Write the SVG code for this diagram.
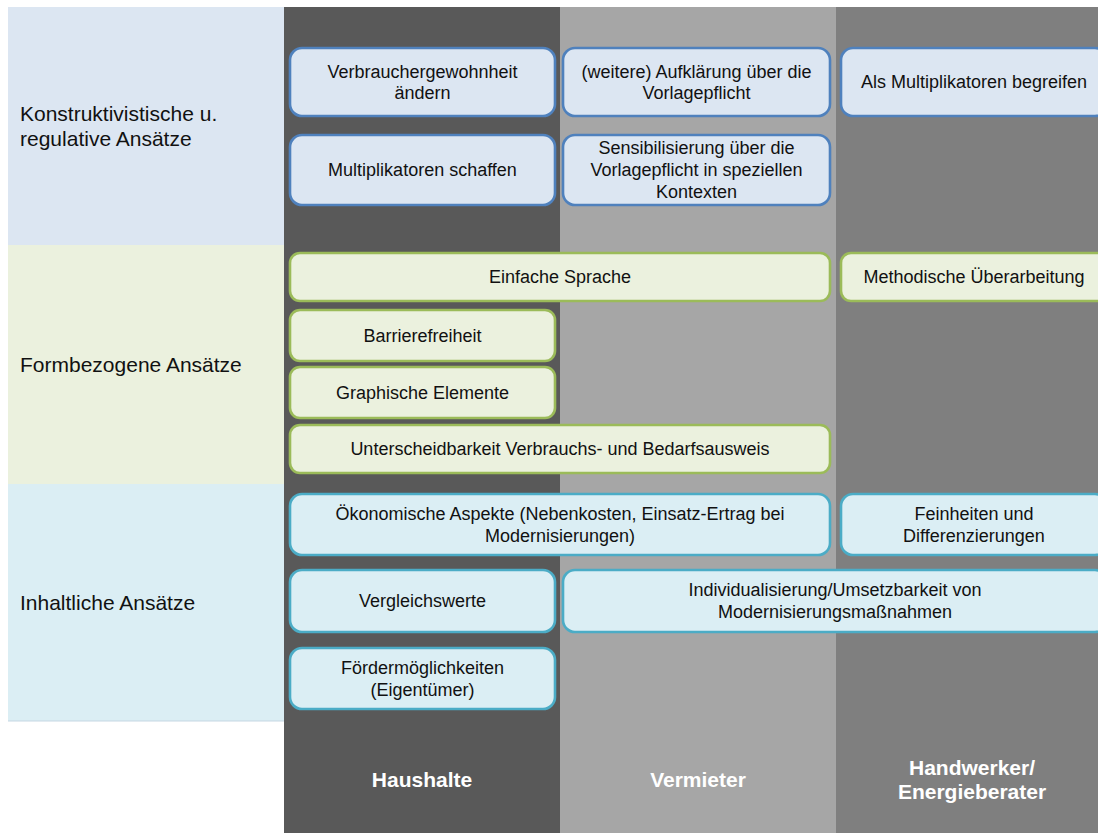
<svg xmlns="http://www.w3.org/2000/svg" width="1098" height="833" viewBox="0 0 1098 833">
  <style>
    .lbl { font-family: "Liberation Sans", Arial, sans-serif; font-size: 21px; fill: #111; }
    .txt { font-family: "Liberation Sans", Arial, sans-serif; font-size: 18px; fill: #111; text-anchor: middle; }
    .hdr { font-family: "Liberation Sans", Arial, sans-serif; font-size: 21px; font-weight: bold; fill: #fff; text-anchor: middle; }
    .b1 { fill: #DCE6F2; stroke: #4F81BD; stroke-width: 2.6; }
    .b2 { fill: #EBF1DE; stroke: #9BBB59; stroke-width: 2.6; }
    .b3 { fill: #DBEEF4; stroke: #4BACC6; stroke-width: 2.6; }
  </style>
  <rect width="1098" height="833" fill="#fff"/>

  <!-- stakeholder columns -->
  <g id="columns">
    <rect x="284" y="7" width="276" height="826" fill="#595959"/>
    <rect x="560" y="7" width="276" height="826" fill="#A6A6A6"/>
    <rect x="836" y="7" width="262" height="826" fill="#7F7F7F"/>
  </g>

  <!-- approach categories -->
  <g id="row-konstruktiv">
    <rect x="8" y="7" width="276" height="238" fill="#DCE6F2"/>
    <text class="lbl" x="20" y="121">Konstruktivistische u.</text>
    <text class="lbl" x="20" y="146">regulative Ansätze</text>
  </g>
  <g id="row-form">
    <rect x="8" y="245" width="276" height="239" fill="#EBF1DE"/>
    <text class="lbl" x="20" y="372">Formbezogene Ansätze</text>
  </g>
  <g id="row-inhalt">
    <rect x="8" y="484" width="276" height="237" fill="#DBEEF4"/>
    <line x1="8" y1="721" x2="284" y2="721" stroke="#C5D7E3" stroke-width="1"/>
    <text class="lbl" x="20" y="610">Inhaltliche Ansätze</text>
  </g>

  <!-- column headers -->
  <g id="hdr-haushalte"><text class="hdr" x="422" y="787">Haushalte</text></g>
  <g id="hdr-vermieter"><text class="hdr" x="698" y="787">Vermieter</text></g>
  <g id="hdr-handwerker">
    <text class="hdr" x="972" y="775">Handwerker/</text>
    <text class="hdr" x="972" y="799">Energieberater</text>
  </g>

  <!-- constructive / regulative -->
  <g id="n-verbrauchergewohnheit">
    <rect class="b1" x="290" y="48" width="265" height="68" rx="12"/>
    <text class="txt" x="422.5" y="78">Verbrauchergewohnheit</text>
    <text class="txt" x="422.5" y="99">ändern</text>
  </g>
  <g id="n-multiplikatoren-schaffen">
    <rect class="b1" x="290" y="135" width="265" height="70" rx="12"/>
    <text class="txt" x="422.5" y="176">Multiplikatoren schaffen</text>
  </g>
  <g id="n-aufklaerung">
    <rect class="b1" x="563" y="48" width="267" height="68" rx="12"/>
    <text class="txt" x="696.5" y="78">(weitere) Aufklärung über die</text>
    <text class="txt" x="696.5" y="99">Vorlagepflicht</text>
  </g>
  <g id="n-sensibilisierung">
    <rect class="b1" x="563" y="135" width="267" height="70" rx="12"/>
    <text class="txt" x="696.5" y="154">Sensibilisierung über die</text>
    <text class="txt" x="696.5" y="176">Vorlagepflicht in speziellen</text>
    <text class="txt" x="696.5" y="198">Kontexten</text>
  </g>
  <g id="n-multiplikatoren-begreifen">
    <rect class="b1" x="841" y="48" width="266" height="68" rx="12"/>
    <text class="txt" x="974" y="88">Als Multiplikatoren begreifen</text>
  </g>

  <!-- form-related -->
  <g id="n-einfache-sprache">
    <rect class="b2" x="290" y="253" width="540" height="48" rx="10"/>
    <text class="txt" x="560" y="283">Einfache Sprache</text>
  </g>
  <g id="n-methodisch">
    <rect class="b2" x="841" y="253" width="266" height="48" rx="10"/>
    <text class="txt" x="974" y="283">Methodische Überarbeitung</text>
  </g>
  <g id="n-barrierefreiheit">
    <rect class="b2" x="290" y="310" width="265" height="51" rx="10"/>
    <text class="txt" x="422.5" y="342">Barrierefreiheit</text>
  </g>
  <g id="n-graphisch">
    <rect class="b2" x="290" y="367" width="265" height="51" rx="10"/>
    <text class="txt" x="422.5" y="399">Graphische Elemente</text>
  </g>
  <g id="n-unterscheidbarkeit">
    <rect class="b2" x="290" y="425" width="540" height="48" rx="10"/>
    <text class="txt" x="560" y="455">Unterscheidbarkeit Verbrauchs- und Bedarfsausweis</text>
  </g>

  <!-- content-related -->
  <g id="n-oekonomisch">
    <rect class="b3" x="290" y="494" width="540" height="61" rx="12"/>
    <text class="txt" x="560" y="520">Ökonomische Aspekte (Nebenkosten, Einsatz-Ertrag bei</text>
    <text class="txt" x="560" y="542">Modernisierungen)</text>
  </g>
  <g id="n-feinheiten">
    <rect class="b3" x="841" y="494" width="266" height="61" rx="12"/>
    <text class="txt" x="974" y="520">Feinheiten und</text>
    <text class="txt" x="974" y="542">Differenzierungen</text>
  </g>
  <g id="n-vergleichswerte">
    <rect class="b3" x="290" y="570" width="265" height="62" rx="12"/>
    <text class="txt" x="422.5" y="607">Vergleichswerte</text>
  </g>
  <g id="n-individualisierung">
    <rect class="b3" x="563" y="570" width="544" height="62" rx="12"/>
    <text class="txt" x="835" y="596">Individualisierung/Umsetzbarkeit von</text>
    <text class="txt" x="835" y="618">Modernisierungsmaßnahmen</text>
  </g>
  <g id="n-foerdermoeglichkeiten">
    <rect class="b3" x="290" y="648" width="265" height="61" rx="12"/>
    <text class="txt" x="422.5" y="674">Fördermöglichkeiten</text>
    <text class="txt" x="422.5" y="696">(Eigentümer)</text>
  </g>

  <!-- no connectors in this layout -->
  <g id="connectors"/>
</svg>
